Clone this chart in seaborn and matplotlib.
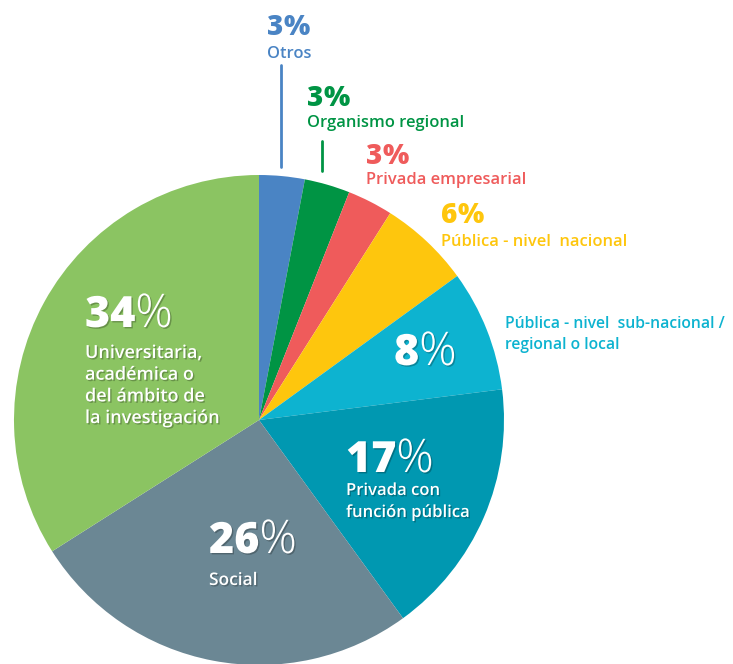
import matplotlib
matplotlib.use("Agg")
import matplotlib.pyplot as plt
import matplotlib.patheffects as pe
import seaborn as sns

sns.set_theme(style="white")
plt.rcParams['font.family'] = ['Open Sans', 'DejaVu Sans']

categories = ["Otros", "Organismo regional", "Privada empresarial",
              "Pública - nivel  nacional", "Pública - nivel  sub-nacional /\nregional o local",
              "Privada con\nfunción pública", "Social",
              "Universitaria,\nacadémica o\ndel ámbito de\nla investigación"]
values = [3, 3, 3, 6, 8, 17, 26, 34]
colors = ["#4a84c4", "#009444", "#ef5b5b", "#fec60d", "#0db3d0", "#0098b1", "#6b8794", "#8bc462"]

W, H = 733, 664
fig = plt.figure(figsize=(W / 100, H / 100), dpi=100)
ax = fig.add_axes([0, 0, 1, 1])

cx, cy, r = 259, H - 420, 245
ax.pie(values, colors=colors, startangle=90, counterclock=False,
       center=(cx, cy), radius=r, frame=True,
       wedgeprops=dict(linewidth=0))
ax.set_xlim(0, W)
ax.set_ylim(0, H)
ax.set_aspect("auto")
ax.axis("off")

fig.canvas.draw()
renderer = fig.canvas.get_renderer()
inv = ax.transData.inverted()

shadow = [pe.withSimplePatchShadow(offset=(1, -1), shadow_rgbFace="black", alpha=0.25)]


def pct(x, baseline, num, color, size, effects=None, pweight="light", gap=0, pscale=1.0):
    t = ax.text(x, H - baseline, str(num), color=color, fontsize=size, fontweight="heavy",
                ha="left", va="baseline", path_effects=effects)
    bb = t.get_window_extent(renderer)
    x1 = inv.transform((bb.x1, bb.y0))[0]
    ax.text(x1 + gap, H - baseline, "%", color=color, fontsize=size * pscale, fontweight=pweight,
            ha="left", va="baseline", path_effects=effects)


def label(x, baseline, text, color, size=11.9, effects=None, pitch=21, weight="semibold"):
    for i, line in enumerate(text.split("\n")):
        ax.text(x, H - (baseline + i * pitch), line, color=color, fontsize=size,
                ha="left", va="baseline", path_effects=effects, fontweight=weight)


# outside small slices
pct(267, 35, values[0], colors[0], 20, pweight="heavy")
label(267, 58, categories[0], colors[0])
ax.plot([281, 281], [H - 65, H - 167], color=colors[0], lw=2)

pct(307, 106, values[1], colors[1], 20, pweight="heavy")
label(307, 127, categories[1], colors[1])
ax.plot([322, 322], [H - 141, H - 171], color=colors[1], lw=2)

pct(366, 164, values[2], colors[2], 20, pweight="heavy")
label(366, 184, categories[2], colors[2])

pct(441, 223, values[3], colors[3], 20, pweight="heavy")
label(441, 246, categories[3], colors[3])

label(505, 328, categories[4], colors[4], size=11.3, pitch=21)

# inside labels
white = "white"
pct(394, 365, values[4], white, 31, shadow, pscale=1.08)

pct(346, 472, values[5], white, 31, shadow, pscale=1.08)
label(346, 495, categories[5], white, size=12, effects=shadow, pitch=22)

pct(209, 553, values[6], white, 31, shadow, pscale=1.08)
label(209, 585, categories[6], white, size=12.5, effects=shadow)

pct(85, 327, values[7], white, 31, shadow, pscale=1.08)
label(85, 358, categories[7], white, size=13, effects=shadow, pitch=21.7)

fig.savefig("out.png", dpi=100)
